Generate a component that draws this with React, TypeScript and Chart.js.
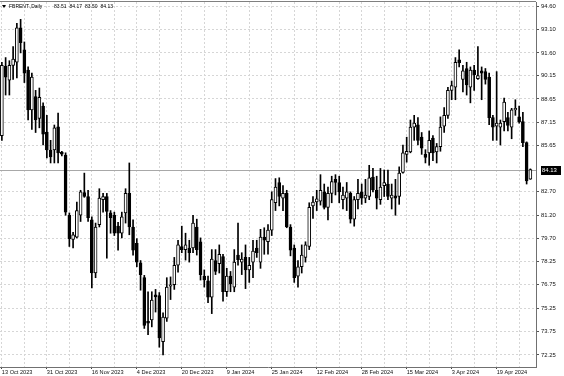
import React, { useEffect, useRef } from "react";
import { Chart, registerables } from "chart.js";

Chart.register(...registerables);

// Daily FBRENT candles, 13 Oct 2023 .. 2 May 2024
const openP = [
  86.30, 90.75, 89.86, 90.80, 91.00, 93.20, 91.80, 90.50, 87.95, 88.80,
  87.40, 88.20, 86.53, 85.38, 85.38, 86.86, 85.25, 85.06, 81.20, 79.66,
  79.80, 81.20, 82.65, 82.40, 80.90, 77.50, 80.60, 82.20, 82.40, 81.35,
  81.20, 80.50, 80.05, 81.35, 82.60, 80.45, 79.40, 78.15, 77.20, 74.40,
  74.50, 76.10, 76.05, 73.10, 74.60, 76.65, 76.75, 78.00, 79.20, 79.00,
  79.10, 79.10, 80.45, 79.50, 77.30, 77.00, 75.95, 78.30, 78.10, 78.55,
  76.30, 77.30, 76.60, 78.65, 78.20, 78.50, 77.70, 78.20, 79.10, 78.20,
  79.80, 79.50, 80.25, 82.00, 83.30, 82.30, 82.60, 80.45, 79.10, 77.30,
  77.90, 78.50, 79.20, 81.80, 82.05, 82.10, 82.70, 81.70, 82.60, 83.50,
  83.30, 82.20, 82.30, 82.60, 80.95, 82.20, 82.70, 82.30, 82.40, 83.65,
  82.80, 82.20, 83.10, 83.20, 82.30, 82.45, 82.40, 83.95, 85.10, 85.25,
  86.85, 87.00, 86.20, 85.10, 85.20, 86.15, 85.25, 85.60, 86.90, 87.60,
  89.20, 89.40, 91.15, 89.90, 90.60, 89.40, 90.50, 89.95, 90.45, 90.40,
  90.05, 87.45, 86.90, 86.85, 87.20, 87.45, 86.85, 87.95, 87.50, 87.20,
  85.85, 83.51,
];
const highP = [
  91.00, 91.30, 91.10, 92.00, 93.50, 93.75, 92.30, 90.70, 90.30, 89.20,
  89.35, 88.40, 87.60, 86.00, 86.98, 87.75, 85.30, 85.20, 81.35, 80.10,
  82.05, 82.80, 83.90, 82.80, 81.10, 80.70, 82.90, 82.60, 82.60, 81.50,
  81.40, 80.75, 81.40, 82.90, 84.55, 80.90, 79.70, 78.30, 77.35, 76.30,
  76.30, 76.45, 76.25, 74.95, 77.20, 77.25, 78.50, 79.60, 80.50, 80.05,
  79.60, 81.20, 80.95, 79.75, 77.70, 77.30, 79.00, 79.00, 79.30, 78.70,
  77.80, 77.60, 79.00, 80.70, 78.80, 79.30, 78.50, 79.60, 79.60, 80.30,
  80.40, 80.60, 82.70, 83.55, 83.60, 83.10, 82.80, 80.60, 79.30, 78.30,
  79.30, 79.50, 82.00, 82.40, 82.80, 83.80, 83.20, 83.00, 83.70, 83.80,
  83.70, 83.00, 83.30, 82.70, 82.40, 83.50, 83.20, 83.50, 84.40, 84.20,
  83.70, 84.20, 84.10, 84.10, 83.20, 83.50, 84.30, 85.70, 86.20, 87.30,
  87.60, 87.45, 86.50, 85.40, 86.60, 86.30, 85.80, 87.50, 88.10, 89.40,
  89.80, 91.30, 91.80, 90.80, 91.00, 90.70, 90.80, 92.00, 90.70, 90.60,
  90.30, 87.60, 90.40, 87.30, 88.70, 87.80, 88.05, 88.60, 88.20, 87.80,
  85.90, 84.17,
];
const lowP = [
  86.00, 88.90, 88.90, 89.90, 90.00, 91.60, 89.70, 87.30, 86.70, 86.50,
  86.80, 85.70, 84.87, 84.55, 84.55, 84.55, 85.00, 81.20, 79.20, 79.10,
  79.75, 80.80, 82.35, 80.80, 76.55, 77.20, 80.45, 81.40, 78.45, 80.05,
  79.90, 78.97, 79.75, 80.70, 79.95, 78.65, 77.90, 76.40, 73.95, 73.55,
  74.05, 75.00, 72.75, 72.25, 74.40, 75.80, 76.45, 77.55, 78.80, 78.33,
  78.20, 78.80, 78.65, 77.05, 76.60, 75.60, 74.90, 77.40, 77.50, 75.70,
  76.00, 76.30, 76.30, 78.00, 77.40, 76.50, 76.90, 77.20, 78.50, 77.80,
  78.70, 78.70, 79.90, 81.50, 81.80, 81.50, 80.40, 78.60, 76.90, 76.60,
  77.50, 78.20, 79.00, 81.00, 81.50, 81.85, 81.60, 80.90, 82.00, 82.50,
  82.00, 81.60, 81.50, 80.70, 80.50, 81.60, 81.90, 82.00, 82.20, 82.70,
  81.60, 81.90, 82.40, 82.20, 81.60, 81.20, 81.90, 83.90, 84.60, 85.20,
  86.00, 85.70, 85.10, 84.55, 84.40, 84.70, 84.55, 85.30, 86.50, 87.40,
  88.60, 88.60, 90.70, 89.10, 88.90, 88.40, 89.20, 89.90, 88.60, 89.60,
  87.00, 86.00, 86.00, 85.70, 86.60, 86.60, 86.10, 87.60, 87.10, 85.60,
  83.20, 83.50,
];
const closeP = [
  90.80, 90.05, 90.80, 91.20, 93.20, 92.25, 90.30, 87.95, 90.05, 87.30,
  88.75, 86.40, 85.38, 84.93, 86.80, 85.20, 85.12, 81.40, 79.70, 79.95,
  81.50, 82.70, 82.40, 81.05, 77.50, 80.45, 82.30, 82.40, 81.45, 81.05,
  80.05, 80.05, 81.10, 82.60, 80.45, 78.97, 78.20, 77.40, 74.15, 74.28,
  75.77, 75.97, 73.35, 74.68, 76.60, 76.75, 78.00, 79.30, 79.00, 79.30,
  78.80, 80.70, 79.00, 77.40, 77.05, 75.95, 78.40, 77.60, 78.70, 76.30,
  77.30, 76.80, 78.20, 78.35, 78.40, 77.70, 78.00, 78.90, 78.80, 79.80,
  79.60, 80.25, 82.20, 83.00, 82.40, 82.60, 80.45, 78.97, 77.20, 77.90,
  78.65, 79.30, 81.70, 82.05, 82.25, 82.80, 81.70, 82.60, 83.35, 83.30,
  82.70, 82.50, 82.70, 80.95, 82.20, 82.60, 82.30, 82.50, 83.60, 82.82,
  82.30, 83.00, 83.30, 82.40, 82.50, 82.30, 83.90, 85.20, 85.30, 86.85,
  87.10, 86.00, 85.50, 84.90, 86.00, 85.20, 85.60, 86.85, 87.60, 89.20,
  89.50, 91.00, 90.95, 90.45, 89.55, 90.50, 90.20, 90.15, 90.30, 89.90,
  87.45, 86.85, 87.10, 87.10, 88.45, 86.95, 87.95, 88.05, 87.20, 85.85,
  83.40, 84.13,
];

const dateTicks = [
  "13 Oct 2023", "31 Oct 2023", "16 Nov 2023", "4 Dec 2023", "20 Dec 2023", "9 Jan 2024",
  "25 Jan 2024", "12 Feb 2024", "28 Feb 2024", "15 Mar 2024", "3 Apr 2024", "19 Apr 2024",
];
const priceTicks = [
  94.6, 93.1, 91.6, 90.15, 88.65, 87.15, 85.65, 82.7, 81.2, 79.7, 78.25, 76.75, 75.25, 73.75, 72.25,
];
const symbolTitle = "FBRENT.,Daily";
const headerValues = ["83.51", "84.17", "83.50", "84.13"];
const lastPrice = 84.13;

const FONT = '"Liberation Sans", Arial, sans-serif';
const GRID = "#d6d6d6";

export default function App() {
  const ref = useRef<HTMLCanvasElement>(null);

  useEffect(() => {
    const n = openP.length;
    const labels = Array.from({ length: n + 1 }, (_, i) => String(i));
    const bodies = openP.map((o, i) => [o, closeP[i]]);
    const wicks = lowP.map((l, i) => [l, highP[i]]);
    const bull = openP.map((o, i) => closeP[i] >= o);

    const overlay = {
      id: "overlay",
      beforeDatasetsDraw(chart: any) {
        const { ctx, chartArea } = chart;
        const y = Math.round(chart.scales.y.getPixelForValue(lastPrice)) + 0.5;
        ctx.save();
        ctx.strokeStyle = "#a8a8a8";
        ctx.lineWidth = 1;
        ctx.beginPath();
        ctx.moveTo(chartArea.left, y);
        ctx.lineTo(chartArea.right, y);
        ctx.stroke();
        ctx.restore();
      },
      afterDraw(chart: any) {
        const { ctx, chartArea } = chart;
        ctx.save();
        ctx.strokeStyle = "#808080";
        ctx.lineWidth = 1;
        ctx.beginPath();
        ctx.moveTo(0, 1.5);
        ctx.lineTo(chartArea.right, 1.5);
        ctx.stroke();
        ctx.fillStyle = "#000";
        ctx.beginPath();
        ctx.moveTo(2, 5);
        ctx.lineTo(6, 5);
        ctx.lineTo(4, 8);
        ctx.closePath();
        ctx.fill();
        ctx.font = `5px ${FONT}`;
        ctx.textBaseline = "middle";
        ctx.textAlign = "left";
        ctx.fillText(symbolTitle, 9, 6.5);
        headerValues.forEach((v, i) => ctx.fillText(v, 54 + i * 15.5, 6.5));
        const y = Math.round(chart.scales.y.getPixelForValue(lastPrice));
        ctx.fillStyle = "#000";
        ctx.fillRect(chartArea.right + 5, y - 4, 20, 9);
        ctx.fillStyle = "#fff";
        ctx.font = `5.9px ${FONT}`;
        ctx.fillText(lastPrice.toFixed(2), chartArea.right + 6, y + 0.5);
        ctx.restore();
      },
    };

    const chart = new Chart(ref.current as HTMLCanvasElement, {
      type: "bar",
      data: {
        labels,
        datasets: [
          {
            label: "body",
            data: bodies as any,
            grouped: false,
            barThickness: 3,
            minBarLength: 1,
            backgroundColor: bull.map((b) => (b ? "#ffffff" : "#000000")),
            borderColor: "#000000",
            borderWidth: 1,
            borderSkipped: false,
          } as any,
          {
            label: "wick",
            data: wicks as any,
            grouped: false,
            barThickness: 1,
            backgroundColor: "#000000",
            borderWidth: 0,
          } as any,
        ],
      },
      options: {
        responsive: false,
        devicePixelRatio: 1,
        animation: false,
        events: [],
        layout: { padding: { top: 2, left: 0, right: 0, bottom: 0 } },
        plugins: { legend: { display: false }, tooltip: { enabled: false }, title: { display: false } },
        scales: {
          x: {
            type: "category",
            offset: true,
            grid: {
              offset: false,
              color: (c: any) => (c.index % 6 === 0 ? GRID : "transparent"),
              tickColor: (c: any) => (c.index % 12 === 0 && c.index / 12 < dateTicks.length ? "#444" : "transparent"),
              tickLength: 2,
            },
            border: { color: "#707070", width: 1, dash: [2, 2] },
            ticks: {
              autoSkip: false,
              maxRotation: 0,
              minRotation: 0,
              align: "start",
              padding: 0,
              color: "#111",
              font: { size: 5.6, family: FONT },
              callback: (_v: any, i: number) =>
                i % 12 === 0 && i / 12 < dateTicks.length ? dateTicks[i / 12] : "",
            },
            afterFit: (s: any) => {
              s.height = 9;
              s.paddingLeft = 0;
              s.paddingRight = 0;
            },
          },
          y: {
            type: "linear",
            position: "right",
            min: 71.48,
            max: 94.86,
            grid: { color: GRID, tickColor: "#555", tickLength: 3 },
            border: { color: "#707070", width: 1, dash: [2, 2] },
            afterBuildTicks: (s: any) => {
              s.ticks = priceTicks.map((v) => ({ value: v }));
            },
            ticks: {
              padding: 2,
              color: "#111",
              font: { size: 5.9, family: FONT },
              callback: (v: any) => Number(v).toFixed(2),
            },
            afterFit: (s: any) => {
              s.width = 28;
              s.paddingTop = 0;
              s.paddingBottom = 0;
            },
          },
        },
      } as any,
      plugins: [overlay],
    });
    return () => chart.destroy();
  }, []);

  return (
    <div style={{ position: "fixed", left: 0, top: 0, width: 564, height: 376, background: "#fff" }}>
      <canvas ref={ref} width={564} height={376} style={{ display: "block" }} />
    </div>
  );
}
